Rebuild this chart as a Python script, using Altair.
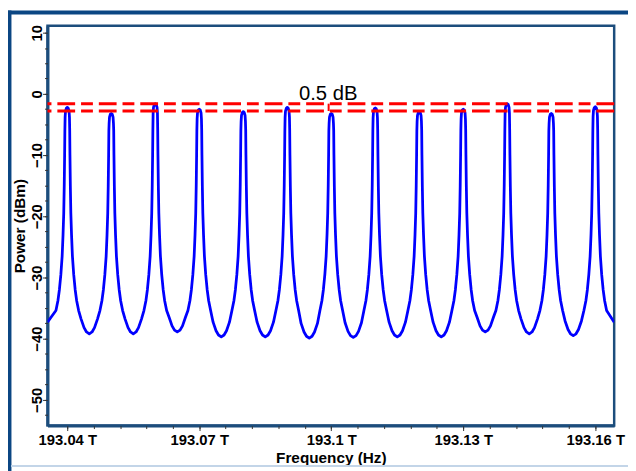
import altair as alt
import pandas as pd

# ---- data ----
peak_freqs = [193.04, 193.05, 193.06, 193.07, 193.08, 193.09, 193.10,
              193.11, 193.12, 193.13, 193.14, 193.15, 193.16]          # THz
peak_powers = [-2.2, -3.2, -1.6, -2.5, -2.9, -2.2, -3.2,
               -2.3, -2.9, -2.5, -1.6, -3.2, -2.1]                      # dBm
valley_powers = [-39.2, -39.2, -38.9, -39.7, -39.7, -39.9,
                 -39.8, -39.7, -39.7, -38.9, -39.2, -39.5]              # dBm, mid-way between peaks
valley_offset = 0.005                                                   # THz from a peak
top_offsets = [0.000224, 0.000404, 0.000493]                            # THz from a peak
top_drops = [0.15, 0.6, 1.6]                                            # dB below the peak
skirt_offsets = [0.00055, 0.000606, 0.000695, 0.000807, 0.000964, 0.001166,
                 0.001458, 0.001794, 0.002131, 0.00258]                 # THz from a peak
skirt_powers = [-6.0, -10.0, -15.0, -19.5, -23.0, -26.5,
                -29.5, -32.0, -33.8, -35.4]                             # dBm
bowl_offsets = [0.00314, 0.00381, 0.00437]                              # THz from a peak
bowl_rises = [2.4, 1.0, 0.3]                                            # dB above the valley
edge_freqs = [193.0355, 193.1643]
edge_powers = [-37.3, -37.3]

ref_levels = [-1.6, -2.8]
bracket_freq = [193.0994]
label_text = ["0.5 dB"]
label_freq = [193.0993]
label_power = [-1.0]

x_domain = [193.0355, 193.1643]
y_domain = [-54.2, 11.13]
x_major = [193.04, 193.07, 193.10, 193.13, 193.16]
x_minor = [193.04, 193.046, 193.052, 193.058, 193.064, 193.07, 193.076, 193.082,
           193.088, 193.094, 193.10, 193.106, 193.112, 193.118, 193.124, 193.13,
           193.136, 193.142, 193.148, 193.154, 193.16]
y_major = [-50, -40, -30, -20, -10, 0, 10]
y_minor = [-52.5, -50, -47.5, -45, -42.5, -40, -37.5, -35, -32.5, -30, -27.5, -25,
           -22.5, -20, -17.5, -15, -12.5, -10, -7.5, -5, -2.5, 0, 2.5, 5, 7.5, 10]

# ---- build the trace table from the lists ----
rows = [(edge_freqs[0], edge_powers[0])]
n = len(peak_freqs)
for i, (f, p) in enumerate(zip(peak_freqs, peak_powers)):
    # falling into the peak from the left
    if i > 0:
        for o, r in reversed(list(zip(bowl_offsets, bowl_rises))):
            rows.append((f - o, valley_powers[i - 1] + r))
    for o, v in reversed(list(zip(skirt_offsets, skirt_powers))):
        rows.append((f - o, v))
    for o, d in reversed(list(zip(top_offsets, top_drops))):
        rows.append((f - o, p - d))
    rows.append((f, p))
    for o, d in zip(top_offsets, top_drops):
        rows.append((f + o, p - d))
    for o, v in zip(skirt_offsets, skirt_powers):
        rows.append((f + o, v))
    if i < n - 1:
        for o, r in zip(bowl_offsets, bowl_rises):
            rows.append((f + o, valley_powers[i] + r))
        rows.append((f + valley_offset, valley_powers[i]))
rows.append((edge_freqs[1], edge_powers[1]))
trace = pd.DataFrame(rows, columns=["f", "p"])
trace["order"] = range(len(trace))

FONT = "Liberation Sans"
AXC = "#1c4d7c"
FRAME = "#0b4683"

xscale = alt.Scale(domain=x_domain, nice=False, zero=False)
yscale = alt.Scale(domain=y_domain, nice=False, zero=False)

x_axis = alt.Axis(
    orient="bottom", values=x_major,
    labelExpr="format(datum.value, '.2~f') + ' T'",
    tickSize=5, tickColor="#333333", tickWidth=1,
    labelFont=FONT, labelFontSize=15, labelFontWeight="bold", labelColor="#000000",
    labelPadding=2, labelOverlap=False, labelFlush=False, labelBound=False,
    domainColor=AXC, domainWidth=3, grid=False,
    title="Frequency (Hz)", titleFont=FONT, titleFontSize=15.5, titleFontWeight="bold",
    titleColor="#000000", titleX=287, titleY=37, titleAlign="center",
    titleBaseline="alphabetic",
)
y_axis = alt.Axis(
    orient="left", values=y_major,
    labelExpr="format(datum.value, 'd')",
    tickSize=5, tickColor="#333333", tickWidth=1,
    labelFont=FONT, labelFontSize=15, labelFontWeight="bold", labelColor="#000000",
    labelAngle=270, labelAlign="center", labelBaseline="alphabetic",
    labelPadding=1, labelOverlap=False, labelFlush=False, labelBound=False,
    domainColor=AXC, domainWidth=3, grid=False,
    title="Power (dBm)", titleFont=FONT, titleFontSize=15.5, titleFontWeight="bold",
    titleColor="#000000", titleAngle=270, titleX=-28, titleY=202.5,
    titleAlign="center", titleBaseline="middle",
)
x_minor_axis = alt.Axis(orient="bottom", values=x_minor, tickSize=3, tickColor="#333333",
                        tickWidth=1, labels=False, domain=False, grid=False, title=None)
y_minor_axis = alt.Axis(orient="left", values=y_minor, tickSize=3, tickColor="#333333",
                        tickWidth=1, labels=False, domain=False, grid=False, title=None)

line = alt.Chart(trace).mark_line(color="#0000ff", strokeWidth=2.8,
                                  strokeJoin="round", clip=True).encode(
    x=alt.X("f:Q", scale=xscale, axis=x_axis),
    y=alt.Y("p:Q", scale=yscale, axis=y_axis),
    order="order:Q",
)

minor = alt.Chart(pd.DataFrame({"f": x_domain, "p": [y_domain[0], y_domain[0]]})).mark_point(
    opacity=0
).encode(
    x=alt.X("f:Q", scale=xscale, axis=x_minor_axis),
    y=alt.Y("p:Q", scale=yscale, axis=y_minor_axis),
)

refs = alt.Chart(pd.DataFrame({"p": ref_levels})).mark_rule(
    color="#ff0000", strokeWidth=3, strokeDash=[18, 6, 12, 6]
).encode(y=alt.Y("p:Q", scale=yscale, axis=None))

bracket = alt.Chart(pd.DataFrame({"f": bracket_freq, "p1": [ref_levels[0]], "p2": [ref_levels[1]]})).mark_rule(
    color="#ff0000", strokeWidth=2
).encode(x=alt.X("f:Q", scale=xscale, axis=None), y=alt.Y("p1:Q", scale=yscale, axis=None), y2="p2:Q")

label = alt.Chart(pd.DataFrame({"f": label_freq, "p": label_power, "t": label_text})).mark_text(
    font=FONT, fontSize=20.5, color="#000000", align="center", baseline="alphabetic"
).encode(x=alt.X("f:Q", scale=xscale, axis=None), y=alt.Y("p:Q", scale=yscale, axis=None), text="t:N")

frame_top = alt.Chart(pd.DataFrame({"a": [0]})).mark_rule(color=FRAME, strokeWidth=4).encode(
    x=alt.value(-40), x2=alt.value(600), y=alt.value(-13.5))
frame_left = alt.Chart(pd.DataFrame({"a": [0]})).mark_rule(color=FRAME, strokeWidth=4).encode(
    x=alt.value(-38.5), y=alt.value(-15.5), y2=alt.value(460))
frame_bottom = alt.Chart(pd.DataFrame({"a": [0]})).mark_rule(color="#c3d5e8", strokeWidth=2).encode(
    x=alt.value(-37), x2=alt.value(600), y=alt.value(446))

chart = alt.layer(line, minor, refs, bracket, label, frame_top, frame_left, frame_bottom).resolve_axis(
    x="independent", y="independent"
).properties(
    width=574, height=405,
    autosize=alt.AutoSizeParams(type="none"),
    padding={"left": 40, "top": 15, "right": 14, "bottom": 43},
    background="#ffffff",
).configure_view(stroke=AXC, strokeWidth=2.5)

chart.save("out.html", embed_options={"renderer": "svg", "actions": False})
